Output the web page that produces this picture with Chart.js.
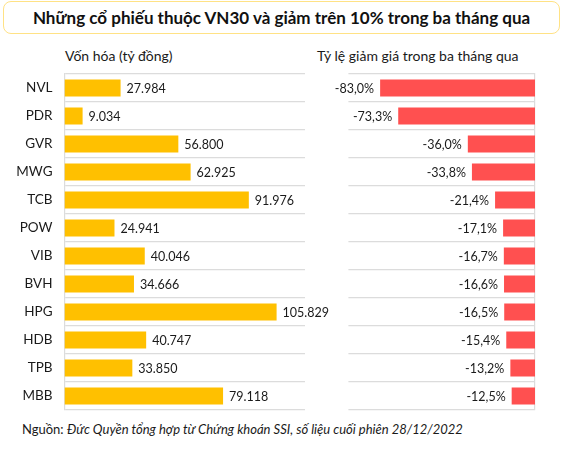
<!DOCTYPE html>
<html lang="vi">

<head>
    <meta charset="UTF-8">
    <title>Cổ phiếu VN30 giảm trên 10%</title>
    <script src="https://cdn.jsdelivr.net/npm/chart.js"></script>
    <style>
        body { margin: 0; background: #fff; font-family: Lato, "Noto Sans", sans-serif; color: #1a1a1a; }
        #wrap { position: relative; width: 562px; height: 451px; background: #fff; overflow: hidden; }
        .title-box {
            position: absolute; left: 3px; top: 1px; width: 557px; height: 33px;
            box-sizing: border-box; border: 1.5px solid #FFE285; border-radius: 8px;
            display: flex; align-items: center; justify-content: center;
            font-weight: bold; font-size: 17px; color: #111;
        }
        .sub { position: absolute; top: 48px; font-size: 14px; line-height: 16px; white-space: nowrap; }
        .source { position: absolute; left: 22px; top: 421px; font-size: 13px; line-height: 16px; white-space: nowrap; }
        canvas { position: absolute; }
    </style>
</head>

<body>
    <div id="wrap">
        <div class="title-box">Những cổ phiếu thuộc VN30 và giảm trên 10% trong ba tháng qua</div>
        <div class="sub" style="left:65px">Vốn hóa (tỷ đồng)</div>
        <div class="sub" style="left:317px">Tỷ lệ giảm giá trong ba tháng qua</div>
        <canvas id="capChart" width="340" height="344" style="left:0;top:70px"></canvas>
        <canvas id="dropChart" width="262" height="344" style="left:300px;top:70px"></canvas>
        <div class="source">Nguồn: <i>Đức Quyền tổng hợp từ Chứng khoán SSI, số liệu cuối phiên 28/12/2022</i></div>
    </div>

    <script>
        // dữ liệu
        const tickers = ['NVL', 'PDR', 'GVR', 'MWG', 'TCB', 'POW', 'VIB', 'BVH', 'HPG', 'HDB', 'TPB', 'MBB'];
        const marketCap = [27984, 9034, 56800, 62925, 91976, 24941, 40046, 34666, 105829, 40747, 33850, 79118];
        const priceDrop = [-83.0, -73.3, -36.0, -33.8, -21.4, -17.1, -16.7, -16.6, -16.5, -15.4, -13.2, -12.5];

        const gridColor = '#dcdcdc';

        function fmtThousands(v) {
            return String(v).replace(/\B(?=(\d{3})+(?!\d))/g, '.');
        }
        function fmtPct(v) {
            return v.toFixed(1).replace('.', ',') + '%';
        }

        // nhãn giá trị ở đầu thanh
        const valueLabels = {
            id: 'valueLabels',
            afterDatasetsDraw(chart) {
                const ctx = chart.ctx;
                const meta = chart.getDatasetMeta(0);
                ctx.save();
                ctx.font = '12.5px Lato, sans-serif';
                ctx.fillStyle = '#1a1a1a';
                ctx.textBaseline = 'middle';
                meta.data.forEach((bar, i) => {
                    const v = chart.data.datasets[0].data[i];
                    if (v < 0) {
                        ctx.textAlign = 'right';
                        ctx.fillText(fmtPct(v), bar.x - 6, bar.y + 1);
                    } else {
                        ctx.textAlign = 'left';
                        ctx.fillText(fmtThousands(v), bar.x + 6, bar.y + 1);
                    }
                });
                ctx.restore();
            }
        };

        new Chart(document.getElementById('capChart'), {
            type: 'bar',
            data: {
                labels: tickers,
                datasets: [{
                    data: marketCap,
                    backgroundColor: '#FFC000',
                    barPercentage: 0.6,
                    categoryPercentage: 1
                }]
            },
            options: {
                indexAxis: 'y',
                responsive: false,
                animation: false,
                layout: { padding: { left: 0, right: 35, top: 4, bottom: 4 } },
                scales: {
                    x: { display: false, min: 0, max: 120000 },
                    y: {
                        afterFit: s => {
                            s.width = 64.5;
                            s.paddingTop = 0;
                            s.paddingBottom = 0;
                        },
                        grid: { color: gridColor, lineWidth: 1.2, drawTicks: false },
                        border: { display: true, color: gridColor, width: 1.2 },
                        ticks: { color: '#1a1a1a', padding: 12, font: { family: 'Lato', size: 13.5 } }
                    }
                },
                plugins: { legend: { display: false }, tooltip: { enabled: false } }
            },
            plugins: [valueLabels]
        });

        new Chart(document.getElementById('dropChart'), {
            type: 'bar',
            data: {
                labels: tickers,
                datasets: [{
                    data: priceDrop,
                    backgroundColor: '#FF5050',
                    barPercentage: 0.6,
                    categoryPercentage: 1
                }]
            },
            options: {
                indexAxis: 'y',
                responsive: false,
                animation: false,
                layout: { padding: { left: 48.4, right: 27, top: 4, bottom: 4 } },
                scales: {
                    x: { display: false, min: -100, max: 0 },
                    y: {
                        position: 'right',
                        afterFit: s => { s.width = 0; },
                        grid: { color: gridColor, lineWidth: 1.2, drawTicks: false },
                        border: { display: true, color: gridColor, width: 1.2 },
                        ticks: { display: false }
                    }
                },
                plugins: { legend: { display: false }, tooltip: { enabled: false } }
            },
            plugins: [valueLabels]
        });
    </script>
</body>

</html>
